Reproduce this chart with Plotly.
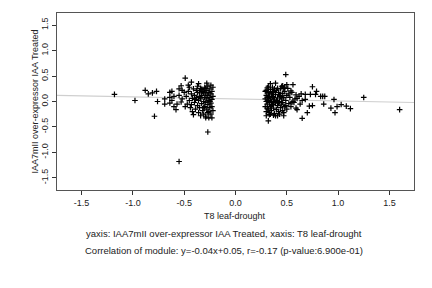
import plotly.graph_objects as go

# Left cluster (x = T8 leaf-drought, y = IAA7mII over-expressor IAA Treated)
left_x = [-1.18, -0.98, -0.88, -0.85, -0.81, -0.77, -0.79, -0.76, -0.69, -0.69, -0.64, -0.64,
          -0.58, -0.64, -0.62, -0.55, -0.53, -0.49, -0.53, -0.43, -0.36, -0.28, -0.27,
          -0.29, -0.26, -0.23, -0.55,
          -0.48, -0.47, -0.46, -0.45, -0.44, -0.43, -0.42, -0.42, -0.41, -0.40, -0.40, -0.39,
          -0.38, -0.38, -0.37, -0.37, -0.36, -0.36, -0.35, -0.35, -0.34, -0.34, -0.33, -0.33,
          -0.32, -0.32, -0.31, -0.31, -0.30, -0.30, -0.30, -0.29, -0.29, -0.28, -0.28, -0.28,
          -0.27, -0.27, -0.27, -0.26, -0.26, -0.26, -0.25, -0.25, -0.25, -0.24, -0.24, -0.24,
          -0.23, -0.23, -0.23, -0.22, -0.22, -0.22, -0.35, -0.33, -0.31, -0.29, -0.27, -0.25,
          -0.31, -0.37, -0.39, -0.43, -0.45, -0.50, -0.49, -0.52, -0.55, -0.57, -0.60, -0.62,
          -0.60, -0.41, -0.34, -0.29, -0.24, -0.46, -0.52]
left_y = [0.14, 0.02, 0.22, 0.15, 0.17, 0.20, -0.29, 0.00, 0.05, -0.05, 0.08, -0.03,
          -0.16, 0.18, 0.20, 0.25, -0.01, 0.46, 0.31, 0.38, 0.35, 0.36, -0.60,
          -0.32, -0.32, -0.32, -1.18,
          0.10, -0.05, 0.20, 0.02, -0.12, 0.15, 0.06, -0.20, 0.25, -0.02, 0.12, -0.15,
          0.08, 0.22, -0.08, 0.30, 0.02, -0.22, 0.17, -0.12, 0.05, 0.26, -0.04, 0.12,
          -0.18, 0.20, 0.00, -0.25, 0.08, 0.28, -0.10, 0.15, -0.02, 0.22, -0.15, 0.05,
          0.30, -0.06, 0.12, -0.20, 0.18, 0.02, -0.12, 0.25, 0.08, -0.03, 0.15, -0.25,
          0.20, 0.04, -0.10, 0.10, -0.18, 0.28, 0.10, 0.24, -0.12, 0.26, -0.22, 0.00,
          0.18, 0.18, 0.04, -0.06, 0.28, 0.18, -0.10, 0.05, 0.12, -0.05, 0.10, 0.02,
          -0.10, -0.26, -0.28, -0.29, 0.32, 0.32, 0.22]

# Right cluster
right_x = [0.49, 0.34, 0.39, 0.46, 0.50, 0.56, 0.47, 0.54, 0.59, 0.64, 0.68, 0.73, 0.75,
           0.79, 0.78, 0.83, 0.85, 0.87, 0.96, 0.86, 0.93, 0.97, 0.99, 1.03, 1.08, 1.12,
           1.25, 1.60, 0.32, 0.33, 0.37, 0.41, 0.47, 0.60, 0.65, 0.70, 0.72, 0.75, 0.68,
           0.63, 0.59, 0.55,
           0.29, 0.29, 0.29, 0.30, 0.30, 0.30, 0.31, 0.31, 0.31, 0.32, 0.32, 0.32, 0.33,
           0.33, 0.33, 0.34, 0.34, 0.34, 0.35, 0.35, 0.35, 0.36, 0.36, 0.36, 0.37, 0.37,
           0.38, 0.38, 0.39, 0.39, 0.40, 0.40, 0.41, 0.41, 0.42, 0.42, 0.43, 0.43, 0.44,
           0.44, 0.45, 0.45, 0.46, 0.46, 0.47, 0.48, 0.48, 0.49, 0.50, 0.50, 0.51, 0.52,
           0.53, 0.55, 0.57, 0.58, 0.30, 0.32, 0.37, 0.39, 0.41, 0.43, 0.45, 0.47, 0.33,
           0.35, 0.37, 0.40, 0.42, 0.44, 0.31, 0.34, 0.38, 0.46, 0.49, 0.36, 0.30, 0.48,
           0.52, 0.54, 0.56, 0.60, 0.62, 0.65]
right_y = [0.53, 0.35, 0.36, 0.31, 0.33, 0.33, 0.26, 0.21, 0.13, 0.15, 0.14, 0.14, 0.29,
           0.20, 0.14, 0.10, 0.10, 0.10, 0.04, -0.05, -0.13, -0.22, -0.10, -0.06, -0.09, -0.14,
           0.08, -0.16, -0.38, -0.26, -0.27, -0.28, -0.28, -0.16, -0.33, -0.22, -0.09, -0.08, 0.04,
           -0.05, -0.13, -0.02,
           0.05, -0.10, 0.20, -0.20, 0.12, 0.00, 0.27, -0.05, 0.08, -0.15, 0.18, 0.02, -0.22,
           0.10, -0.02, 0.24, -0.10, 0.05, 0.15, -0.18, 0.00, 0.28, -0.06, 0.10, -0.13, 0.20,
           0.03, -0.24, 0.14, -0.03, 0.22, -0.16, 0.07, -0.08, 0.18, -0.20, 0.00, 0.12, -0.12,
           0.25, 0.05, -0.05, 0.16, -0.18, 0.08, -0.10, 0.20, 0.02, -0.15, 0.12, 0.26, -0.04,
           0.08, 0.18, -0.02, 0.05, -0.28, 0.30, 0.08, -0.28, 0.26, -0.25, 0.30, -0.22, 0.15,
           -0.08, -0.02, 0.02, -0.02, 0.10, -0.13, -0.25, 0.25, -0.02, -0.08, 0.18, 0.22, 0.28,
           0.15, -0.10, 0.00, 0.06, 0.10, 0.02]

slope = -0.04
intercept = 0.05
x_range = [-1.74, 1.74]
y_range = [-1.74, 1.74]
tick_vals = [-1.5, -1.0, -0.5, 0.0, 0.5, 1.0, 1.5]
tick_text = ["-1.5", "-1.0", "-0.5", "0.0", "0.5", "1.0", "1.5"]

x_title = "T8 leaf-drought"
y_title = "IAA7mII over-expressor IAA Treated"
line1 = "yaxis: IAA7mII over-expressor IAA Treated, xaxis: T8 leaf-drought"
line2 = "Correlation of module: y=-0.04x+0.05, r=-0.17 (p-value:6.900e-01)"

FONT = "Liberation Sans, Arial, Helvetica, sans-serif"

fig = go.Figure()
fig.add_trace(go.Scatter(
    x=x_range, y=[slope * v + intercept for v in x_range], mode="lines",
    line=dict(color="#cfcfcf", width=1.2), hoverinfo="skip", showlegend=False))
fig.add_trace(go.Scatter(
    x=left_x + right_x, y=left_y + right_y, mode="markers",
    marker=dict(symbol="cross-thin", size=4, color="black",
                line=dict(color="black", width=1.2)),
    showlegend=False))

axis_common = dict(
    tickvals=tick_vals, ticktext=tick_text, ticks="outside", ticklen=4,
    tickwidth=1, tickcolor="#333", showgrid=False, zeroline=False, showline=True,
    linecolor="#555", linewidth=1, mirror=True,
    tickfont=dict(family=FONT, size=9, color="#222"),
)
fig.update_xaxes(**{**axis_common, "range": x_range})
fig.update_yaxes(**{**axis_common, "range": y_range, "tickangle": -90})

plot_h = 177
plot_w = 357
anns = [
    dict(text=x_title, x=(235 - 57) / plot_w, y=-(216 - 190) / plot_h, size=9),
    dict(text=line1, x=(224 - 57) / plot_w, y=-(233 - 190) / plot_h, size=9.5),
    dict(text=line2, x=(224 - 57) / plot_w, y=-(250 - 190) / plot_h, size=9.5),
]
for a in anns:
    fig.add_annotation(xref="paper", yref="paper", showarrow=False, xanchor="center",
                       yanchor="middle", text=a["text"], x=a["x"], y=a["y"],
                       font=dict(family=FONT, size=a["size"], color="#222"))
fig.add_annotation(xref="paper", yref="paper", showarrow=False, x=(34 - 57) / plot_w, y=0.5,
                   xanchor="center", yanchor="middle", textangle=-90, text=y_title,
                   font=dict(family=FONT, size=9, color="#222"))

fig.update_layout(
    width=432, height=288, margin=dict(l=57, r=18, t=13, b=98),
    plot_bgcolor="white", paper_bgcolor="white",
)
fig.write_html("out.html")
